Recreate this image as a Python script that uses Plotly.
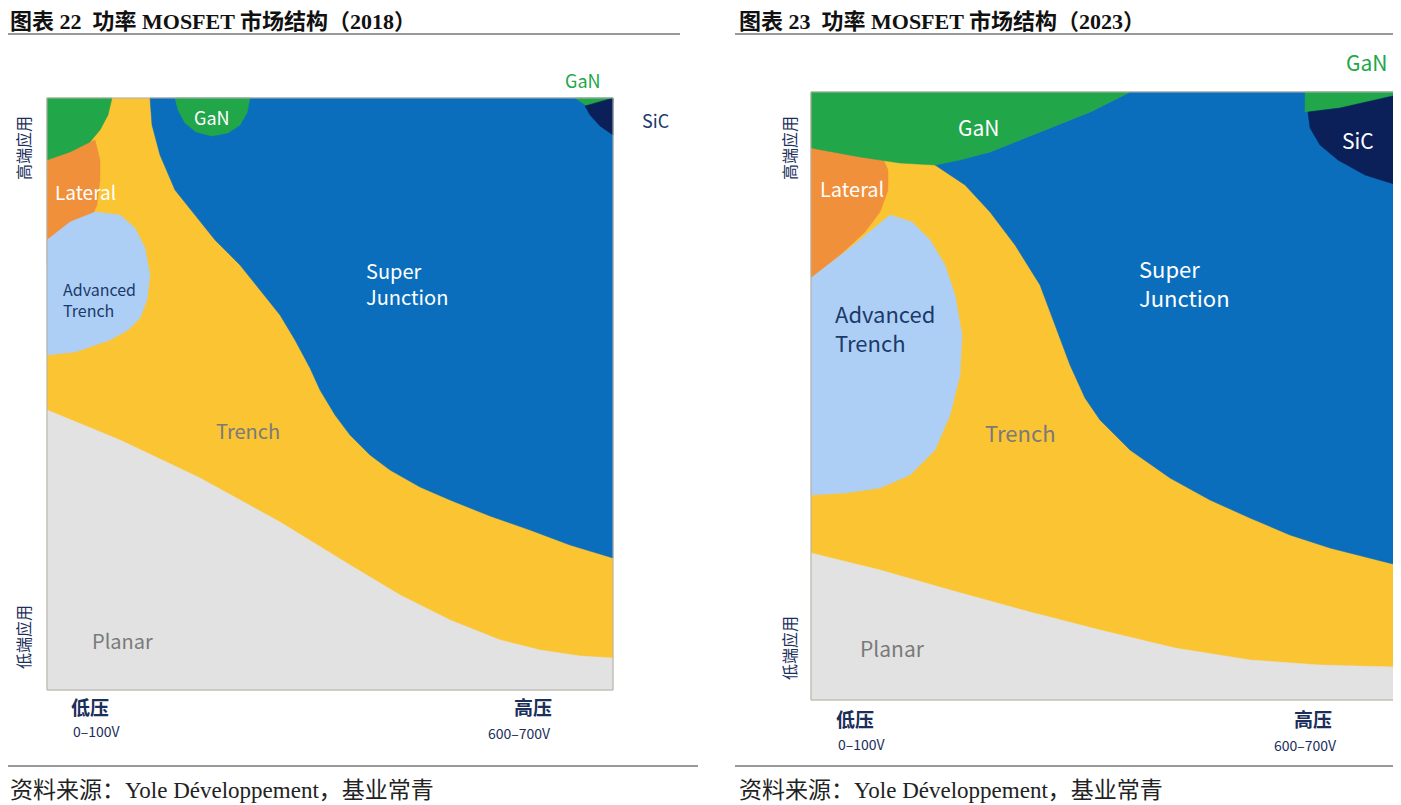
import plotly.graph_objects as go

# ---- Region outlines (chart coordinate space, y downward) ----
L_frame = [(47,98),(613,98),(613,690),(47,690)]
L_sj = [(150,98),(152,125),(160,155),(175,190),(195,215),(215,240),(240,265),(260,290),(280,315),(295,340),(310,368),(320,390),(335,415),(350,435),(370,455),(390,470),(420,487),(450,500),(490,516),(530,530),(570,545),(613,558),(613,98)]
L_planar = [(47,410),(120,440),(200,478),(280,522),(350,565),(400,595),(450,620),(500,640),(540,650),(580,656),(613,658),(613,690),(47,690)]
L_lateral = [(47,160),(95,140),(100,160),(100,180),(97,205),(88,225),(75,242),(47,265)]
L_adv = [(47,240),(70,222),(95,212),(120,215),(135,228),(145,248),(150,275),(147,300),(140,318),(128,330),(110,340),(75,352),(47,355)]
L_gan1 = [(47,98),(112,98),(108,115),(100,130),(90,142),(70,152),(47,160)]
L_gan2 = [(175,98),(250,98),(247,113),(240,125),(228,133),(212,136),(196,132),(185,123),(178,110)]
L_gan3 = [(575,98),(613,98),(613,103),(590,108)]
L_sic = [(585,106),(613,98),(613,135),(600,126),(590,115)]

R_frame = [(811,92),(1397,92),(1397,700),(811,700)]
R_sj = [(935,165),(965,185),(990,212),(1015,245),(1040,285),(1055,325),(1070,365),(1085,398),(1100,420),(1130,450),(1170,478),(1210,500),(1250,518),(1290,535),(1330,548),(1397,565),(1397,92),(1130,92),(1090,112),(1040,132),(990,152)]
R_planar = [(811,553),(880,570),(950,590),(1030,612),(1100,630),(1175,648),(1250,660),(1320,665),(1397,667),(1397,700),(811,700)]
R_gan1 = [(811,92),(1130,92),(1090,112),(1040,132),(990,152),(960,160),(935,165),(900,163),(860,157),(811,148)]
R_gan2 = [(1305,92),(1397,92),(1397,95),(1340,108),(1305,112)]
R_sic = [(1308,112),(1340,108),(1397,95),(1397,185),(1365,175),(1338,160),(1320,145),(1310,128)]
R_lateral = [(811,148),(860,152),(880,152),(888,170),(888,190),(880,212),(865,232),(840,255),(811,278)]
R_adv = [(811,278),(850,248),(890,215),(912,222),(930,240),(945,265),(955,295),(962,335),(960,375),(950,415),(935,450),(910,475),(880,488),(845,493),(811,495)]

YELLOW, BLUE, GRAY, ORANGE, LBLUE, GREEN, NAVY = "#fbc433", "#0a6ebd", "#e2e2e2", "#f0903a", "#aecff5", "#21a64a", "#0b2059"

regions = [
    (L_frame, YELLOW), (L_sj, BLUE), (L_planar, GRAY), (L_lateral, ORANGE), (L_adv, LBLUE),
    (L_gan1, GREEN), (L_gan2, GREEN), (L_gan3, GREEN), (L_sic, NAVY),
    (R_frame, YELLOW), (R_sj, BLUE), (R_planar, GRAY), (R_lateral, ORANGE), (R_adv, LBLUE),
    (R_gan1, GREEN), (R_gan2, GREEN), (R_sic, NAVY),
]

fig = go.Figure()
for pts, col in regions:
    xs = [p[0] for p in pts] + [pts[0][0]]
    ys = [p[1] for p in pts] + [pts[0][1]]
    fig.add_trace(go.Scatter(x=xs, y=ys, fill="toself", fillcolor=col, mode="lines",
                             line=dict(color=col, width=0.5), hoverinfo="skip", showlegend=False))
for fr in (L_frame, R_frame):
    xs = [p[0] for p in fr] + [fr[0][0]]; ys = [p[1] for p in fr] + [fr[0][1]]
    fig.add_trace(go.Scatter(x=xs, y=ys, mode="lines", line=dict(color="#b0b0b0", width=1),
                             hoverinfo="skip", showlegend=False))
for x0, x1, y in [(8,680,34),(735,1401,34),(8,698,766),(735,1401,766)]:
    fig.add_trace(go.Scatter(x=[x0,x1], y=[y,y], mode="lines", line=dict(color="#333", width=1),
                             hoverinfo="skip", showlegend=False))

SANS = "Noto Sans CJK SC"
SERIF = "Liberation Serif, Noto Sans CJK SC"
labels = [
    (8,21,"<b>图表 22  功率 MOSFET 市场结构（2018）</b>",22,"#111",0,"left",SERIF),
    (737,21,"<b>图表 23  功率 MOSFET 市场结构（2023）</b>",22,"#111",0,"left",SERIF),
    (8,790,"资料来源：Yole Développement，基业常青",23,"#222",0,"left",SERIF),
    (737,790,"资料来源：Yole Développement，基业常青",23,"#222",0,"left",SERIF),
]
clabels = [
    (85,191,"Lateral",19,"white",0),(99,299,"Advanced<br>Trench",16,"#1b3a6b",0),
    (248,430,"Trench",20,"#7a7a7a",0),(122,640,"Planar",20,"#7a7a7a",0),
    (407,283,"Super<br>Junction",20,"white",0),(212,117,"GaN",18,"white",0),
    (583,80,"GaN",18,GREEN,0),(655,120,"SiC",18,"#1b3a6b",0),
    (90,706,"<b>低压</b>",19,"#1b2f5a",0),(97,731,"0–100V",14,"#1b2f5a",0),
    (533,706,"<b>高压</b>",19,"#1b2f5a",0),(519,733,"600–700V",14,"#1b2f5a",0),
    (23,148,"高端应用",16,"#1b2f5a",-90),(23,637,"低端应用",16,"#1b2f5a",-90),
    (852,188,"Lateral",20,"white",0),(885,327,"Advanced<br>Trench",22,"#1b3a6b",0),
    (1020,432,"Trench",22,"#7a7a7a",0),(892,648,"Planar",21,"#7a7a7a",0),
    (1184,282,"Super<br>Junction",22,"white",0),(978,127,"GaN",21,"white",0),
    (1366,62,"GaN",21,GREEN,0),(1358,140,"SiC",21,"white",0),
    (855,718,"<b>低压</b>",19,"#1b2f5a",0),(862,744,"0–100V",14,"#1b2f5a",0),
    (1313,718,"<b>高压</b>",19,"#1b2f5a",0),(1305,745,"600–700V",14,"#1b2f5a",0),
    (789,148,"高端应用",16,"#1b2f5a",-90),(789,648,"低端应用",16,"#1b2f5a",-90),
]
for x, y, t, s, c, a, anc, fam in labels:
    fig.add_annotation(x=x, y=y, text=t, showarrow=False, xanchor=anc,
                       font=dict(family=fam, size=s, color=c))
for x, y, t, s, c, a in clabels:
    fig.add_annotation(x=x, y=y, text=t, showarrow=False, textangle=a, align="left",
                       font=dict(family=SANS, size=s, color=c))

# page body has an 8px margin, so offset the ranges to keep coordinates = pixels
fig.update_xaxes(range=[8,1409], visible=False)
fig.update_yaxes(range=[813,8], visible=False)
fig.update_layout(width=1401, height=805, margin=dict(l=0,r=0,t=0,b=0),
                  plot_bgcolor="white", paper_bgcolor="white")
fig.write_html("out.html")
